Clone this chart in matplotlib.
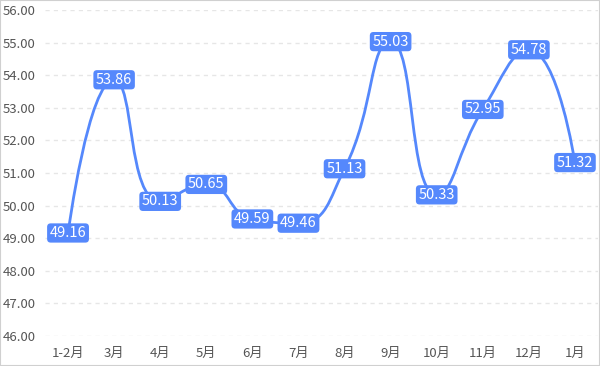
import numpy as np
import matplotlib
matplotlib.use("Agg")
import matplotlib.pyplot as plt
from matplotlib.path import Path
from matplotlib.patches import PathPatch, Rectangle

plt.rcParams['font.family'] = ['Noto Sans CJK SC', 'DejaVu Sans']

# data
months = ['1-2月', '3月', '4月', '5月', '6月', '7月', '8月', '9月', '10月', '11月', '12月', '1月']
values = [49.16, 53.86, 50.13, 50.65, 49.59, 49.46, 51.13, 55.03, 50.33, 52.95, 54.78, 51.32]
y_ticks = [46, 47, 48, 49, 50, 51, 52, 53, 54, 55, 56]

blue = '#5588FC'

fig = plt.figure(figsize=(6, 3.66), dpi=100)
ax = fig.add_axes([45 / 600, 30 / 366, 553 / 600, 326 / 366])

n = len(values)
ax.set_xlim(-0.5, n - 0.5)
ax.set_ylim(46, 56)

# echarts-like smooth bezier, computed in pixel space
sx, sy = 553 / n, 326 / 10.0
px = np.arange(n) * sx
py = np.array(values) * sy
smooth = 0.5


def clamp(v, a, b):
    return max(min(a, b), min(v, max(a, b)))


cps = []  # (cp_before, cp_after) for each point
for i in range(n):
    x, y = px[i], py[i]
    if i == 0 or i == n - 1:
        cps.append(((x, y), (x, y)))
        continue
    x0, y0 = px[i - 1], py[i - 1]
    x1, y1 = px[i + 1], py[i + 1]
    vx, vy = x1 - x0, y1 - y0
    lp = np.hypot(x - x0, y - y0)
    ln = np.hypot(x1 - x, y1 - y)
    r = ln / (ln + lp)
    ncx = clamp(x + vx * smooth * r, x, x1)
    ncy = clamp(y + vy * smooth * r, y, y1)
    dx, dy = ncx - x, ncy - y
    pcx = clamp(x - dx * lp / ln, x0, x)
    pcy = clamp(y - dy * lp / ln, y0, y)
    dx, dy = x - pcx, y - pcy
    ncx = x + dx * ln / lp
    ncy = y + dy * ln / lp
    cps.append(((pcx, pcy), (ncx, ncy)))

verts = [(px[0] / sx, py[0] / sy)]
codes = [Path.MOVETO]
for i in range(1, n):
    c1 = cps[i - 1][1]
    c2 = cps[i][0]
    verts += [(c1[0] / sx, c1[1] / sy), (c2[0] / sx, c2[1] / sy), (px[i] / sx, py[i] / sy)]
    codes += [Path.CURVE4] * 3
ax.add_patch(PathPatch(Path(verts, codes), fill=False, edgecolor=blue, lw=2.0,
                       capstyle='round', joinstyle='round', zorder=3))

# labels
for i, v in enumerate(values):
    ax.text(i, v, f'{v:.2f}', ha='center', va='center', color='white', fontsize=10.5,
            zorder=5,
            bbox=dict(boxstyle='round,pad=0.18,rounding_size=0.25', fc=blue, ec='none'))

ax.set_xticks(range(n))
ax.set_xticklabels(months)
ax.set_yticks(y_ticks)
ax.set_yticklabels([f'{t:.2f}' for t in y_ticks])
ax.tick_params(length=0, labelsize=9.5, colors='#555555')
ax.tick_params(axis='x', pad=8)
ax.tick_params(axis='y', pad=7)
ax.grid(axis='y', color='#e6e6e6', linestyle=(0, (3, 3)), lw=1)
ax.set_axisbelow(True)
for s in ax.spines.values():
    s.set_visible(False)

fig.patches.append(Rectangle((0, 0), 1, 1, transform=fig.transFigure, fill=False,
                             edgecolor='#d0d0d0', lw=1.5))

fig.savefig('out.png', dpi=100)
